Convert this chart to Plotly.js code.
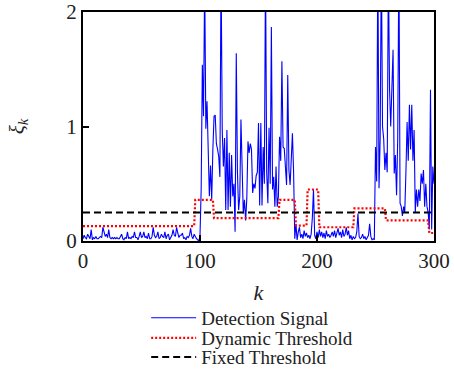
<!DOCTYPE html>
<html>
<head>
<meta charset="utf-8">
<script src="https://cdn.plot.ly/plotly-3.0.1.min.js"></script>
<style>html,body{margin:0;padding:0;background:#fff;}#chart{width:454px;height:369px;}</style>
</head>
<body>
<div id="chart"></div>
<script>
// Detection signal, one value per k = 0..300
const detectionSignal = [
  0.02,0.05,0.03,0.02,0.06,0.03,0.02,0.10,0.01,0.03,
  0.02,0.04,0.02,0.02,0.03,0.04,0.03,0.12,0.08,0.04,
  0.06,0.03,0.10,0.03,0.02,0.03,0.02,0.03,0.02,0.03,
  0.02,0.02,0.04,0.06,0.02,0.01,0.03,0.02,0.08,0.02,
  0.03,0.02,0.04,0.03,0.08,0.03,0.03,0.01,0.04,0.08,
  0.03,0.04,0.08,0.03,0.04,0.02,0.07,0.02,0.02,0.04,
  0.12,0.05,0.03,0.04,0.08,0.02,0.03,0.06,0.04,0.03,
  0.08,0.02,0.05,0.06,0.01,0.03,0.05,0.10,0.05,0.04,
  0.12,0.07,0.03,0.05,0.05,0.07,0.02,0.03,0.01,0.04,
  0.03,0.05,0.11,0.04,0.02,0.06,0.03,0.02,0.01,0.00,
  0.05,0.45,1.54,1.09,2.30,0.98,1.22,0.70,0.39,0.66,
  0.36,0.80,1.09,1.10,0.85,0.80,0.74,0.56,2.40,0.97,
  0.65,0.90,0.27,0.97,0.27,0.77,0.30,0.75,0.39,0.50,
  0.08,1.64,0.60,0.27,0.39,1.06,0.50,0.24,0.36,0.18,
  0.37,0.87,0.77,0.85,0.80,0.42,0.50,0.46,0.57,0.60,
  1.03,0.31,1.03,0.31,0.82,0.50,2.40,0.60,0.33,0.99,
  0.50,1.87,0.45,0.56,0.30,0.65,0.30,0.39,0.91,0.70,
  1.57,0.82,0.81,0.65,0.49,1.45,0.62,0.49,0.71,0.94,
  0.60,0.02,0.15,0.01,0.08,0.12,0.03,0.06,0.02,0.09,
  0.04,0.07,0.03,0.05,0.02,0.06,0.20,0.45,0.05,0.02,
  0.08,0.03,0.10,0.04,0.08,0.03,0.07,0.02,0.09,0.04,
  0.06,0.03,0.05,0.08,0.04,0.09,0.03,0.06,0.11,0.05,
  0.08,0.03,0.10,0.04,0.06,0.12,0.05,0.09,0.02,0.05,
  0.01,0.04,0.02,0.03,0.08,0.24,0.04,0.02,0.03,0.06,
  0.02,0.04,0.01,0.03,0.05,0.15,0.04,0.01,0.02,0.01,
  0.82,0.52,2.50,0.46,0.90,2.50,1.00,0.89,0.62,0.77,
  0.60,2.40,1.33,1.00,1.38,1.67,0.59,0.75,0.40,0.90,
  2.50,0.33,0.30,0.22,0.30,0.25,0.60,1.04,0.70,1.19,
  0.80,1.19,0.70,0.97,0.25,0.45,0.30,0.45,0.35,0.59,
  0.50,0.62,0.30,0.50,0.30,0.25,0.10,1.32,0.10,0.65,
  0.50
];

// Dynamic threshold: start k of each segment and its level
const dynStarts = [0, 96, 112, 168, 182, 192, 202, 232, 259, 296];
const dynLevels = [0.13, 0.36, 0.20, 0.36, 0.135, 0.45, 0.12, 0.285, 0.18, 0.07];

// Fixed threshold
const fixedK = [0, 300];
const fixedLevel = [0.25, 0.25];

const xTicks = [0, 100, 200, 300];
const yTicks = [0, 1, 2];

const kValues = detectionSignal.map((_, i) => i);
const dynamicThreshold = kValues.map(k => {
  let lvl = dynLevels[0];
  for (let s = 0; s < dynStarts.length; s++) if (k >= dynStarts[s]) lvl = dynLevels[s];
  return lvl;
});

const serif = 'Liberation Serif, Times New Roman, serif';

const traces = [
  {x: kValues, y: detectionSignal, type: 'scatter', mode: 'lines', name: 'Detection Signal',
   line: {color: '#0000ff', width: 1.1}, legend: 'legend'},
  {x: kValues, y: dynamicThreshold, type: 'scatter', mode: 'lines', name: 'Dynamic Threshold',
   line: {color: '#ff0000', width: 2.2, dash: '2px,2px'}, legend: 'legend2'},
  {x: fixedK, y: fixedLevel, type: 'scatter', mode: 'lines', name: 'Fixed Threshold',
   line: {color: '#000000', width: 2, dash: '7px,4px'}, legend: 'legend3'}
];

function leg(y) {
  return {x: 0.18, y: y, xanchor: 'left', yanchor: 'middle', bgcolor: 'rgba(0,0,0,0)',
          font: {family: serif, size: 19, color: '#222'}, itemwidth: 45};
}

const layout = {
  width: 454, height: 369,
  margin: {l: 83, r: 20, t: 12, b: 128, autoexpand: false},
  paper_bgcolor: '#fff', plot_bgcolor: '#fff',
  font: {family: serif, color: '#222'},
  xaxis: {
    range: [0, 300], tickvals: xTicks, ticktext: xTicks.map(String),
    showline: true, mirror: true, linecolor: '#000', linewidth: 2,
    ticks: 'inside', ticklen: 6, tickwidth: 2, tickcolor: '#000',
    showgrid: false, zeroline: false,
    tickfont: {family: serif, size: 21, color: '#222'},
    title: {text: '<i>k</i>', font: {family: serif, size: 22, color: '#222'}, standoff: 12}
  },
  yaxis: {
    range: [0, 2], tickvals: yTicks, ticktext: yTicks.map(String),
    showline: true, mirror: true, linecolor: '#000', linewidth: 2,
    ticks: 'inside', ticklen: 6, tickwidth: 2, tickcolor: '#000',
    showgrid: false, zeroline: false,
    tickfont: {family: serif, size: 21, color: '#222'},
    title: {text: '<i>ξ<sub>k</sub></i>', font: {family: serif, size: 21, color: '#222'}, standoff: 36}
  },
  showlegend: true,
  legend: leg(-0.336),
  legend2: leg(-0.424),
  legend3: leg(-0.507)
};

Plotly.newPlot('chart', traces, layout, {displayModeBar: false, staticPlot: true});
</script>
</body>
</html>
